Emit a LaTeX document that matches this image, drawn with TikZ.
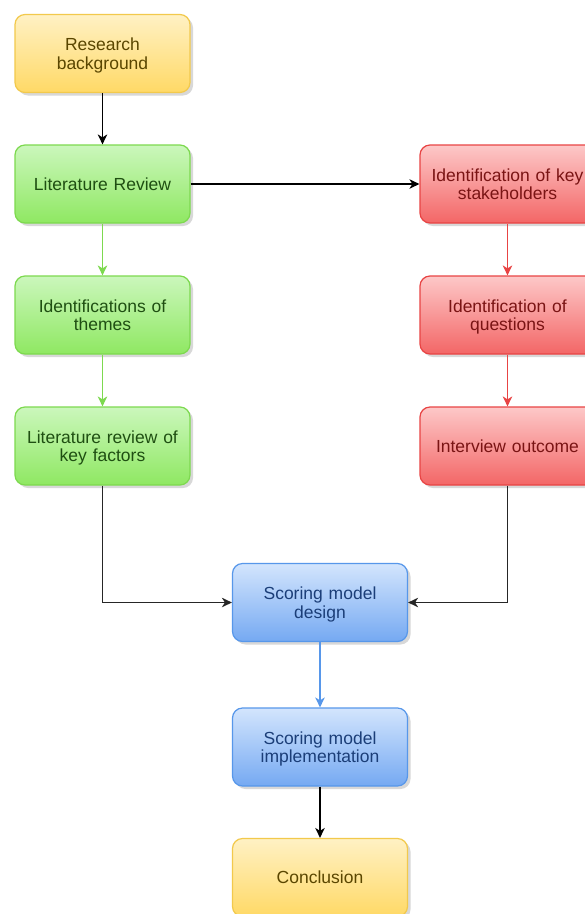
\documentclass[tikz,border=0pt]{standalone}
\usepackage{fontspec}
\setmainfont{Liberation Sans}
\usetikzlibrary{arrows.meta,shadows}

% box palettes: top fill, bottom fill, border, text
\definecolor{ylwTop}{HTML}{FFF1C4}
\definecolor{ylwBot}{HTML}{FFD966}
\definecolor{ylwLine}{HTML}{F2C94C}
\definecolor{ylwText}{HTML}{5A4600}
\definecolor{grnTop}{HTML}{CBF7BC}
\definecolor{grnBot}{HTML}{8FE862}
\definecolor{grnLine}{HTML}{7DD94F}
\definecolor{grnText}{HTML}{1F4F12}
\definecolor{redTop}{HTML}{FDC8C8}
\definecolor{redBot}{HTML}{F36666}
\definecolor{redLine}{HTML}{E84444}
\definecolor{redText}{HTML}{7A1414}
\definecolor{bluTop}{HTML}{D3E5FD}
\definecolor{bluBot}{HTML}{75A9F2}
\definecolor{bluLine}{HTML}{5797EA}
\definecolor{bluText}{HTML}{1B3E78}

\tikzset{
  box/.style={rounded corners=10pt, minimum width=175pt, minimum height=78pt,
    line width=1.2pt, align=center, text width=168pt,
    font=\fontsize{17.5}{18.5}\selectfont,
    drop shadow={shadow xshift=3pt, shadow yshift=-3pt, opacity=0.25, fill=black!60}},
  ybox/.style={box, top color=ylwTop, bottom color=ylwBot, draw=ylwLine, text=ylwText},
  gbox/.style={box, top color=grnTop, bottom color=grnBot, draw=grnLine, text=grnText},
  rbox/.style={box, top color=redTop, bottom color=redBot, draw=redLine, text=redText},
  bbox/.style={box, top color=bluTop, bottom color=bluBot, draw=bluLine, text=bluText},
  link/.style={line width=1.3pt, -{Stealth[length=10pt,width=9.5pt,inset=3pt]}},
}

\begin{document}
\begin{tikzpicture}[x=1pt,y=-1pt]
  \useasboundingbox[fill=white] (0,0) rectangle (585,914);

  % left column: literature branch
  \node[ybox] (rb) at (102.5,53.5) {Research\\\smash{background}};
  \node[gbox] (lr) at (102.5,184)  {Literature Review};
  \node[gbox] (it) at (102.5,315)  {Identifications of\\\smash{themes}};
  \node[gbox] (lk) at (102.5,446)  {Literature review of\\\smash{key factors}};

  % right column: stakeholder branch
  \node[rbox] (ks) at (507.5,184)  {Identification of key\\\smash{stakeholders}};
  \node[rbox] (iq) at (507.5,315)  {Identification of\\\smash{questions}};
  \node[rbox] (io) at (507.5,446)  {Interview outcome};

  % centre column: scoring model
  \node[bbox] (sd) at (320,602.5)  {Scoring model\\\smash{design}};
  \node[bbox] (si) at (320,747)    {Scoring model\\\smash{implementation}};
  \node[ybox] (cc) at (320,877.5)  {Conclusion};

  % connectors
  \draw[link, black]    (rb) -- (lr);
  \draw[link, black]    (lr) -- (ks);
  \draw[link, grnLine]  (lr) -- (it);
  \draw[link, grnLine]  (it) -- (lk);
  \draw[link, redLine]  (ks) -- (iq);
  \draw[link, redLine]  (iq) -- (io);
  \draw[link, black!85] (lk.south) |- (sd.west);
  \draw[link, black!85] (io.south) |- (sd.east);
  \draw[link, bluLine]  (sd) -- (si);
  \draw[link, black]    (si) -- (cc);
\end{tikzpicture}
\end{document}
